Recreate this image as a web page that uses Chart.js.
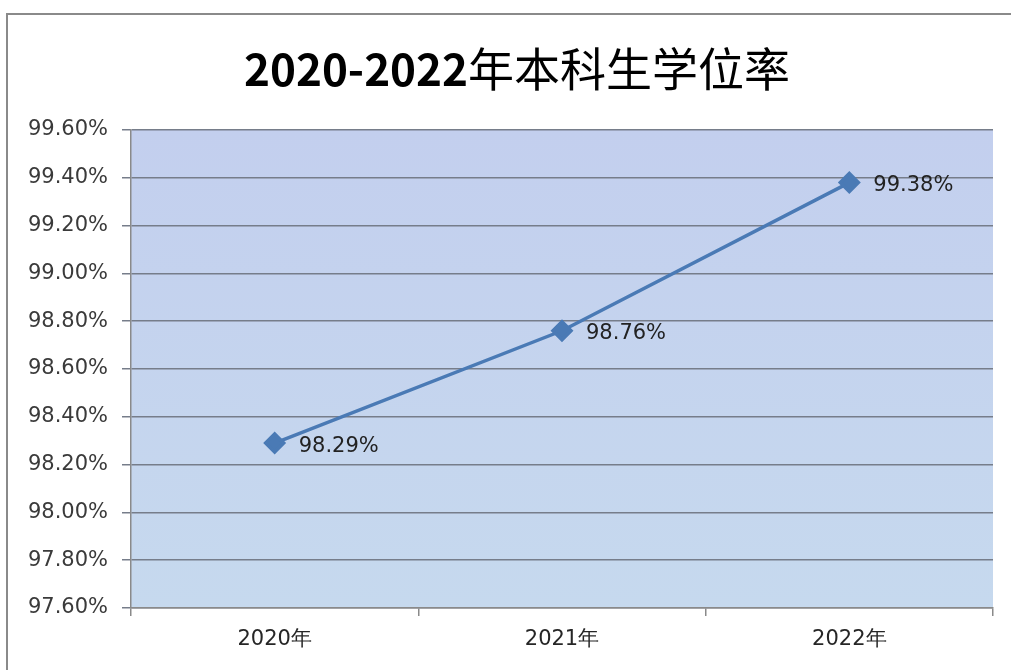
<!DOCTYPE html>
<html>
<head>
<meta charset="utf-8">
<script src="https://cdn.jsdelivr.net/npm/chart.js@4"></script>
<style>
html,body{margin:0;padding:0;background:#fff;}
#wrap{width:1011px;height:670px;}
</style>
</head>
<body>
<div id="wrap"><canvas id="c" width="1011" height="670"></canvas></div>
<script>
const titleNum = "2020-2022";
const titleCJK = "年本科生学位率";
const categories = ["2020年", "2021年", "2022年"];
const values = [98.29, 98.76, 99.38];
const yMin = 97.6, yMax = 99.6, yStep = 0.2;

const frame = {
  id: 'frame',
  beforeDraw(chart) {
    const ctx = chart.ctx, a = chart.chartArea;
    ctx.save();
    ctx.fillStyle = '#ffffff';
    ctx.fillRect(0, 0, chart.width, chart.height);
    ctx.strokeStyle = '#8a8a8a';
    ctx.lineWidth = 2;
    ctx.strokeRect(7, 14, chart.width + 20, chart.height + 20);
    const g = ctx.createLinearGradient(0, a.top, 0, a.bottom);
    g.addColorStop(0, '#c3cfee');
    g.addColorStop(1, '#c6d9ee');
    ctx.fillStyle = g;
    ctx.fillRect(a.left, a.top, a.right - a.left, a.bottom - a.top);
    // title
    ctx.textBaseline = 'alphabetic';
    ctx.font = 'bold 44px "Noto Sans CJK SC"';
    const w1 = ctx.measureText(titleNum).width;
    ctx.font = '400 46px "Noto Sans CJK SC"';
    const w2 = ctx.measureText(titleCJK).width;
    const x0 = 517 - (w1 + w2) / 2;
    ctx.fillStyle = '#000';
    ctx.font = 'bold 44px "Noto Sans CJK SC"';
    ctx.fillText(titleNum, x0, 86);
    ctx.font = '400 46px "Noto Sans CJK SC"';
    ctx.fillText(titleCJK, x0 + w1, 86);
    ctx.restore();
  }
};

const labels = {
  id: 'labels',
  afterDatasetsDraw(chart) {
    const ctx = chart.ctx;
    const meta = chart.getDatasetMeta(0);
    ctx.save();
    ctx.font = '21px "DejaVu Sans"';
    ctx.fillStyle = '#222222';
    ctx.textAlign = 'left';
    ctx.textBaseline = 'middle';
    meta.data.forEach((p, i) => {
      ctx.fillText(values[i].toFixed(2) + '%', p.x + 24, p.y + 3);
    });
    ctx.restore();
  }
};

new Chart(document.getElementById('c'), {
  type: 'line',
  data: {
    labels: categories,
    datasets: [{
      data: values,
      borderColor: '#4a7ab5',
      backgroundColor: '#4a7ab5',
      borderWidth: 3.5,
      pointStyle: 'rectRot',
      pointRadius: 9,
      pointHoverRadius: 9,
      tension: 0
    }]
  },
  options: {
    responsive: false,
    animation: false,
    events: [],
    layout: { padding: { top: 130, right: 18, left: 0, bottom: 0 } },
    plugins: { legend: { display: false }, title: { display: false }, tooltip: { enabled: false } },
    scales: {
      x: {
        offset: true,
        afterFit(s) { s.height = 62; },
        grid: { offset: true, drawOnChartArea: false, drawTicks: true, tickLength: 8, color: '#8a8a8a', lineWidth: 1.5 },
        border: { color: '#8a8a8a', width: 1.5 },
        ticks: { font: { family: 'DejaVu Sans', size: 21 }, color: '#262626', padding: 11 }
      },
      y: {
        min: yMin, max: yMax,
        afterFit(s) { s.width = 131; },
        afterBuildTicks(s) {
          const t = [];
          for (let i = 0; i <= Math.round((yMax - yMin) / yStep); i++) t.push({ value: +(yMin + i * yStep).toFixed(2) });
          s.ticks = t;
        },
        grid: { color: '#767d8a', lineWidth: 1.5, tickLength: 9, drawTicks: true },
        border: { color: '#8a8a8a', width: 1.5 },
        ticks: {
          font: { family: 'DejaVu Sans', size: 21 },
          color: '#3a3a3a',
          padding: 14,
          callback: v => v.toFixed(2) + '%'
        }
      }
    }
  },
  plugins: [frame, labels]
});
</script>
</body>
</html>
